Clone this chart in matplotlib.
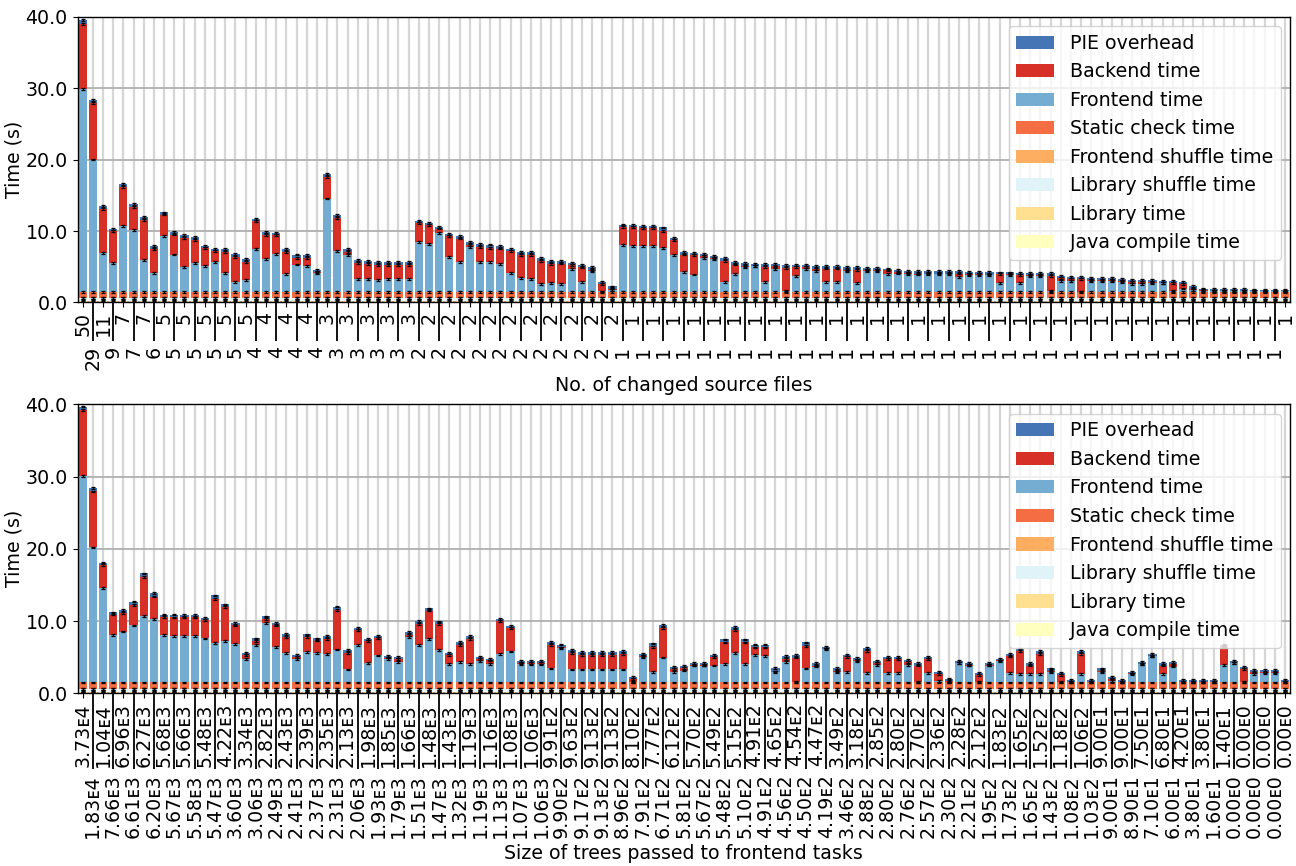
import numpy as np
import matplotlib
matplotlib.use("Agg")
import matplotlib.pyplot as plt

# --------------------------------------------------
# data (seconds)
# --------------------------------------------------
labels_series = ["Java compile time", "Library time", "Library shuffle time",
                 "Frontend shuffle time", "Static check time", "Frontend time",
                 "Backend time", "PIE overhead"]
colors = ["#ffffbf", "#fee090", "#e0f3f8", "#fdae61", "#f46d43", "#74add1",
          "#d73027", "#4575b4"]

# nearly constant small parts at the bottom of every bar
java_compile = 0.08
library = 0.17
library_shuffle = 0.33
frontend_shuffle = 0.02
static_check = 0.9

# top chart: sorted by number of changed source files
changed_files = [50, 29, 11, 9, 7, 7, 7, 6] + [5] * 9 + [4] * 7 + [3] * 9 + [2] * 20 + [1] * 66
top_frontend = [28.4, 18.5, 5.4, 4.05, 9.2, 8.6, 4.4, 2.65, 7.8, 5.2,
                3.45, 4.05, 3.6, 4.2, 2.65, 1.4, 1.6, 5.95, 4.55, 5.3,
                2.5, 3.8, 3.6, 2.65, 13.05, 5.7, 5.15, 1.75, 1.75, 1.6,
                1.75, 1.75, 1.75, 6.95, 6.65, 8.25, 4.85, 4.2, 6.3, 4.15,
                4.15, 3.9, 2.65, 1.9, 1.75, 1.1, 1.25, 1.1, 3.15, 1.4,
                2.9, 0.05, 0.2, 6.55, 6.4, 6.4, 6.4, 6.1, 5.15, 2.75,
                2.4, 4.75, 4.55, 1.4, 2.5, 3.5, 3.6, 1.4, 3.15, 0.1,
                2.2, 3.15, 2.9, 1.4, 1.4, 2.9, 1.25, 2.9, 2.9, 2.5,
                2.55, 2.5, 2.4, 2.45, 2.45, 2.45, 2.05, 2.35, 2.35, 2.35,
                1.2, 2.35, 1.2, 2.25, 2.25, 0.1, 1.55, 1.55, 0.02, 1.5,
                1.5, 1.5, 1.4, 1.1, 1.1, 1.25, 1.2, 0.1, 0.45, 0.2,
                0.1, 0.1, 0.1, 0.1, 0.1, 0.08, 0.05, 0.05, 0.05]
top_backend = [9.1, 7.9, 6.2, 4.45, 5.5, 3.3, 5.6, 3.35, 3.0, 2.8,
               4.05, 3.2, 2.55, 1.5, 2.9, 3.5, 2.6, 3.95, 3.4, 2.65,
               3.05, 0.9, 1.1, 0.15, 3.05, 4.6, 0.4, 2.3, 2.15, 2.1,
               1.95, 1.95, 1.95, 2.7, 2.65, 0.6, 2.95, 3.25, 0.25, 2.15,
               2.0, 2.15, 3.05, 3.25, 3.4, 3.25, 2.65, 2.85, 0.55, 2.0,
               0.1, 1.0, 0.25, 2.55, 2.7, 2.5, 2.5, 2.45, 2.05, 2.45,
               2.75, 0.25, 0.2, 2.9, 1.3, 0.1, 0.05, 2.1, 0.4, 3.25,
               1.3, 0.3, 0.25, 1.85, 1.85, 0.1, 1.75, 0.1, 0.1, 0.5,
               0.15, 0.1, 0.15, 0.1, 0.1, 0.1, 0.5, 0.1, 0.1, 0.05,
               1.25, 0.1, 1.15, 0.05, 0.05, 2.15, 0.35, 0.2, 1.73, 0.1,
               0.1, 0.1, 0.1, 0.25, 0.25, 0.1, 0.05, 1.15, 0.65, 0.25,
               0.1, 0.05, 0.05, 0.05, 0.05, 0.05, 0.05, 0.05, 0.05]
top_pie = [0.5, 0.4, 0.4, 0.3, 0.35, 0.4, 0.5, 0.4, 0.3, 0.4,
           0.4, 0.45, 0.25, 0.3, 0.4, 0.4, 0.4, 0.3, 0.4, 0.25,
           0.4, 0.5, 0.45, 0.2, 0.4, 0.45, 0.4, 0.35, 0.4, 0.45,
           0.45, 0.45, 0.45, 0.25, 0.35, 0.25, 0.3, 0.35, 0.4, 0.35,
           0.45, 0.35, 0.25, 0.4, 0.4, 0.35, 0.4, 0.35, 0.3, 0.35,
           0.45, 0.35, 0.3, 0.3, 0.25, 0.3, 0.3, 0.45, 0.35, 0.4,
           0.3, 0.25, 0.25, 0.4, 0.35, 0.45, 0.25, 0.4, 0.3, 0.4,
           0.25, 0.25, 0.45, 0.35, 0.35, 0.45, 0.45, 0.3, 0.3, 0.15,
           0.3, 0.3, 0.35, 0.35, 0.35, 0.35, 0.35, 0.3, 0.3, 0.35,
           0.25, 0.25, 0.25, 0.3, 0.3, 0.35, 0.3, 0.3, 0.3, 0.3,
           0.3, 0.3, 0.25, 0.25, 0.25, 0.25, 0.3, 0.25, 0.3, 0.35,
           0.25, 0.2, 0.2, 0.2, 0.2, 0.17, 0.15, 0.15, 0.15]

# bottom chart: sorted by size of trees passed to frontend tasks
tree_sizes = ["3.73ᴇ4", "1.83ᴇ4", "1.04ᴇ4", "7.66ᴇ3", "6.96ᴇ3", "6.61ᴇ3", "6.27ᴇ3", "6.20ᴇ3",
              "5.68ᴇ3", "5.67ᴇ3", "5.66ᴇ3", "5.58ᴇ3", "5.48ᴇ3", "5.47ᴇ3", "4.22ᴇ3", "3.60ᴇ3",
              "3.34ᴇ3", "3.06ᴇ3", "2.82ᴇ3", "2.49ᴇ3", "2.43ᴇ3", "2.41ᴇ3", "2.39ᴇ3", "2.37ᴇ3",
              "2.35ᴇ3", "2.31ᴇ3", "2.13ᴇ3", "2.06ᴇ3", "1.98ᴇ3", "1.93ᴇ3", "1.85ᴇ3", "1.79ᴇ3",
              "1.66ᴇ3", "1.51ᴇ3", "1.48ᴇ3", "1.47ᴇ3", "1.43ᴇ3", "1.32ᴇ3", "1.19ᴇ3", "1.19ᴇ3",
              "1.16ᴇ3", "1.13ᴇ3", "1.08ᴇ3", "1.07ᴇ3", "1.06ᴇ3", "1.06ᴇ3", "9.91ᴇ2", "9.90ᴇ2",
              "9.63ᴇ2", "9.17ᴇ2", "9.13ᴇ2", "9.13ᴇ2", "9.13ᴇ2", "8.96ᴇ2", "8.10ᴇ2", "7.91ᴇ2",
              "7.77ᴇ2", "6.71ᴇ2", "6.12ᴇ2", "5.81ᴇ2", "5.70ᴇ2", "5.67ᴇ2", "5.49ᴇ2", "5.48ᴇ2",
              "5.15ᴇ2", "5.10ᴇ2", "4.91ᴇ2", "4.91ᴇ2", "4.65ᴇ2", "4.56ᴇ2", "4.54ᴇ2", "4.50ᴇ2",
              "4.47ᴇ2", "4.19ᴇ2", "3.49ᴇ2", "3.46ᴇ2", "3.18ᴇ2", "2.88ᴇ2", "2.85ᴇ2", "2.80ᴇ2",
              "2.80ᴇ2", "2.76ᴇ2", "2.70ᴇ2", "2.57ᴇ2", "2.36ᴇ2", "2.30ᴇ2", "2.28ᴇ2", "2.21ᴇ2",
              "2.12ᴇ2", "1.95ᴇ2", "1.83ᴇ2", "1.73ᴇ2", "1.65ᴇ2", "1.65ᴇ2", "1.52ᴇ2", "1.43ᴇ2",
              "1.18ᴇ2", "1.08ᴇ2", "1.06ᴇ2", "1.03ᴇ2", "9.00ᴇ1", "9.00ᴇ1", "9.00ᴇ1", "8.90ᴇ1",
              "7.50ᴇ1", "7.10ᴇ1", "6.80ᴇ1", "6.00ᴇ1", "4.20ᴇ1", "3.80ᴇ1", "3.80ᴇ1", "1.60ᴇ1",
              "1.40ᴇ1", "0.00ᴇ0", "0.00ᴇ0", "0.00ᴇ0", "0.00ᴇ0", "0.00ᴇ0", "0.00ᴇ0"]
bot_frontend = [28.55, 18.7, 13.1, 6.6, 7.05, 7.9, 9.25, 8.75, 6.6, 6.45,
                6.45, 6.45, 6.1, 5.45, 5.75, 5.35, 3.25, 5.2, 8.25, 4.95,
                4.1, 3.2, 4.25, 4.1, 3.95, 4.55, 1.8, 5.2, 2.7, 3.75,
                3.2, 2.85, 6.3, 5.2, 6.05, 4.5, 2.55, 2.85, 2.55, 3.0,
                2.6, 3.95, 4.3, 2.55, 2.5, 2.5, 1.95, 4.75, 1.8, 1.8,
                1.8, 1.8, 1.8, 1.8, 0.1, 3.55, 1.5, 3.45, 1.5, 1.65,
                2.35, 2.35, 2.35, 2.55, 4.1, 2.6, 3.8, 3.7, 1.5, 2.85,
                0.1, 1.95, 2.2, 4.6, 1.5, 1.5, 3.0, 1.35, 2.45, 1.35,
                1.35, 2.45, 0.1, 1.35, 0.25, 0.1, 2.65, 2.35, 0.1, 2.35,
                2.95, 1.35, 1.2, 1.2, 1.2, 1.5, 0.1, 0.05, 1.2, 0.05,
                1.5, 0.25, 0.05, 1.15, 2.5, 3.6, 1.2, 2.2, 0.05, 0.05,
                0.05, 0.05, 2.45, 2.65, 0.1, 1.2, 1.35, 1.35, 0.05]
bot_backend = [9.15, 7.75, 3.2, 2.8, 2.6, 2.85, 5.4, 3.15, 2.5, 2.55,
               2.55, 2.55, 2.5, 6.15, 4.65, 2.55, 0.55, 0.5, 0.55, 2.95,
               2.2, 0.35, 2.0, 1.7, 2.1, 5.5, 2.3, 2.1, 3.05, 2.45,
               0.25, 0.35, 0.3, 2.85, 3.9, 3.55, 1.25, 2.35, 3.5, 0.2,
               0.45, 4.55, 3.25, 0.15, 0.2, 0.2, 3.25, 0.1, 2.3, 2.0,
               2.0, 2.0, 2.0, 2.15, 0.35, 0.15, 3.45, 4.1, 0.4, 0.35,
               0.1, 0.1, 1.2, 3.0, 3.2, 2.95, 1.05, 1.15, 0.02, 0.4,
               3.35, 3.15, 0.15, 0.1, 0.1, 2.05, 0.15, 3.05, 0.25, 1.9,
               1.85, 0.35, 2.25, 1.85, 0.95, 0.15, 0.05, 0.1, 0.95, 0.1,
               0.1, 2.25, 3.2, 1.15, 2.75, 0.1, 0.95, 0.05, 2.75, 0.05,
               0.1, 0.3, 0.05, 0.1, 0.05, 0.1, 1.15, 0.3, 0.05, 0.05,
               0.05, 0.05, 2.6, 0.05, 1.8, 0.2, 0.05, 0.05, 0.05]
bot_pie = [0.5, 0.45, 0.3, 0.3, 0.35, 0.45, 0.45, 0.45, 0.3, 0.4,
           0.3, 0.3, 0.35, 0.45, 0.4, 0.35, 0.3, 0.4, 0.35, 0.3,
           0.45, 0.25, 0.4, 0.3, 0.4, 0.45, 0.4, 0.25, 0.3, 0.25,
           0.25, 0.35, 0.4, 0.45, 0.3, 0.4, 0.3, 0.45, 0.4, 0.35,
           0.25, 0.3, 0.3, 0.3, 0.3, 0.3, 0.45, 0.4, 0.4, 0.45,
           0.45, 0.45, 0.45, 0.45, 0.35, 0.25, 0.45, 0.45, 0.25, 0.3,
           0.25, 0.25, 0.25, 0.4, 0.4, 0.4, 0.4, 0.4, 0.45, 0.45,
           0.35, 0.45, 0.35, 0.25, 0.4, 0.25, 0.25, 0.4, 0.3, 0.3,
           0.35, 0.35, 0.35, 0.35, 0.3, 0.3, 0.3, 0.25, 0.3, 0.25,
           0.25, 0.35, 0.3, 0.35, 0.45, 0.35, 0.3, 0.2, 0.45, 0.25,
           0.35, 0.25, 0.25, 0.25, 0.3, 0.25, 0.35, 0.35, 0.25, 0.25,
           0.25, 0.25, 0.15, 0.3, 0.25, 0.35, 0.35, 0.35, 0.25]

FS = 13.7


def draw_panel(ax, tick_labels, frontend, backend, pie, xlabel, long_tick):
    """stacked bars with small error caps and staggered tick labels"""
    n = len(frontend)
    x = np.arange(n)
    parts = [np.full(n, java_compile), np.full(n, library), np.full(n, library_shuffle),
             np.full(n, frontend_shuffle), np.full(n, static_check),
             np.array(frontend), np.array(backend), np.array(pie)]
    bottom = np.zeros(n)
    handles = []
    for vals, col, lab in zip(parts, colors, labels_series):
        h = ax.bar(x, vals, bottom=bottom, width=0.8, color=col, label=lab, zorder=2)
        handles.append(h)
        bottom = bottom + vals
        ax.errorbar(x, bottom, yerr=0.12, fmt='none', ecolor='black', elinewidth=0.9,
                    capsize=1.2, capthick=0.9, zorder=3)

    ax.set_xlim(-0.5, n - 0.5)
    ax.set_ylim(0, 40)
    ax.set_yticks([0, 10, 20, 30, 40])
    ax.set_yticklabels(['0.0', '10.0', '20.0', '30.0', '40.0'], fontsize=FS)
    ax.set_ylabel('Time (s)', fontsize=FS, labelpad=1.5)
    ax.set_xlabel(xlabel, fontsize=FS)

    # alternate labels between two rows: odd ones hang on long ticks
    ax.set_xticks(x[0::2], [str(t) for t in tick_labels[0::2]], rotation=90, fontsize=FS)
    ax.set_xticks(x[1::2], [str(t) for t in tick_labels[1::2]], minor=True,
                  rotation=90, fontsize=FS)
    ax.tick_params(axis='x', which='minor', length=long_tick, width=1.3)

    ax.set_axisbelow(True)
    ax.grid(True, axis='x', which='both', color='#d6d6d6', linewidth=1.6)
    ax.grid(True, axis='y', which='major', color='#b0b0b0', linewidth=1.3)
    for s in ax.spines.values():
        s.set_linewidth(1.0)

    ax.legend(handles[::-1], labels_series[::-1], loc='upper right', fontsize=FS,
              handlelength=2.0)


fig = plt.figure(figsize=(12.96, 8.66), dpi=100)
ax1 = fig.add_axes([0.0598, 0.6507, 0.9356, 0.3300])
ax2 = fig.add_axes([0.0598, 0.1994, 0.9356, 0.3337])

draw_panel(ax1, changed_files, top_frontend, top_backend, top_pie,
           'No. of changed source files', 28)
draw_panel(ax2, tree_sizes, bot_frontend, bot_backend, bot_pie,
           'Size of trees passed to frontend tasks', 55)

fig.savefig('out.png', dpi=100)
